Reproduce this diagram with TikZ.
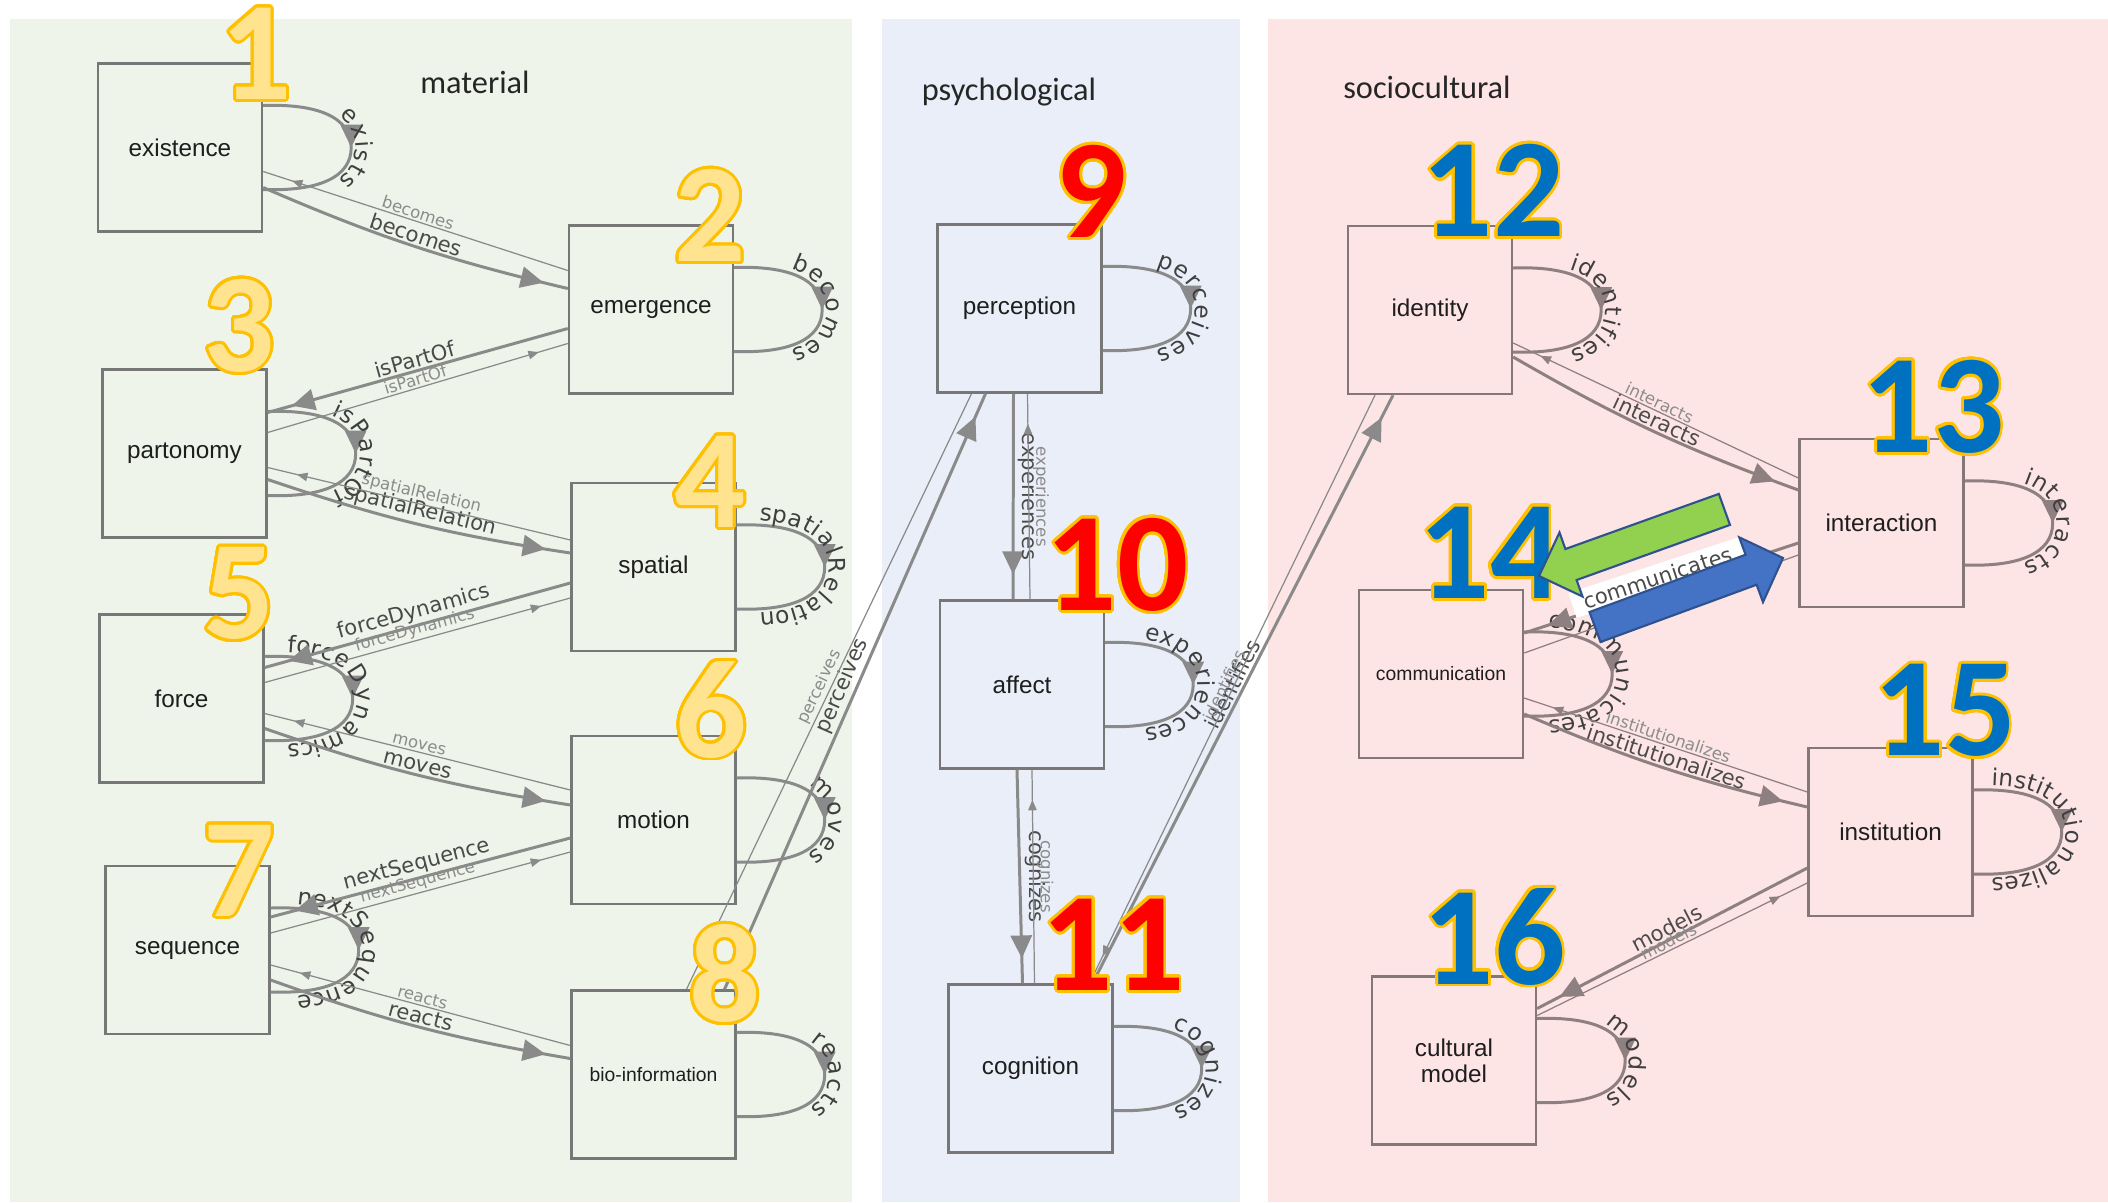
\documentclass[tikz,border=0pt]{standalone}
\usepackage{fontspec}
\setmainfont{Liberation Sans}
\newfontfamily\dejavu{DejaVu Sans}
\newfontfamily\carlito{Carlito}
\usepackage{contour}
\contourlength{0.8pt}
\contournumber{32}
\usetikzlibrary{arrows.meta,decorations.markings,decorations.text,calc}

\definecolor{panelG}{HTML}{EEF4E9}
\definecolor{panelB}{HTML}{E9EEF8}
\definecolor{panelR}{HTML}{FDE4E5}
\definecolor{edgeG}{HTML}{8A8A8A}
\definecolor{edgeR}{HTML}{8E8080}
\definecolor{boxG}{HTML}{777777}
\definecolor{boxR}{HTML}{857777}
\definecolor{labdark}{HTML}{4A4A4A}
\definecolor{labgray}{HTML}{8C8C8C}
\definecolor{looptext}{HTML}{3F3F3F}
\definecolor{boxtext}{HTML}{1E1E1E}
\definecolor{numY}{HTML}{FFE38F}
\definecolor{numR}{HTML}{FF0000}
\definecolor{numB}{HTML}{0070C0}
\definecolor{numO}{HTML}{FFC000}
\definecolor{arrG}{HTML}{92D050}
\definecolor{arrB}{HTML}{4472C4}
\definecolor{arrO}{HTML}{2F528F}

\newcommand\boxfnt{\fontsize{6.9}{7.3}\selectfont}
\newcommand\boxsmallfnt{\fontsize{5.5}{6}\selectfont}
\newcommand\bigfnt{\dejavu\fontsize{6}{7}\selectfont}
\newcommand\smallfnt{\dejavu\fontsize{4.7}{5.5}\selectfont}
\newcommand\loopfnt{\dejavu\fontsize{6.6}{7.5}\selectfont}
\newcommand\titlefnt{\carlito\fontsize{9.2}{11}\selectfont}
\newcommand\numfnt{\carlito\bfseries\fontsize{40}{40}\selectfont}

\newcommand\selfloop[2]{%
  \draw[line width=0.85pt,
    postaction={decorate, decoration={markings, mark=at position 0.5 with {\arrow{Triangle[length=6.5pt,width=6pt]}}}},
    postaction={decorate, decoration={text along path, text={|\loopfnt|#2}, text align=center, raise=1.2pt, text color=looptext}}]
    ($(#1.east)+(0,-42)$) .. controls +(55,-2) and +(0,-30) .. ($(#1.east)+(88,0)$) .. controls +(0,30) and +(55,2) .. ($(#1.east)+(0,42)$);%
}

\begin{document}
\begin{tikzpicture}[x=0.01cm,y=-0.01cm,
  box/.style={draw=#1, line width=0.65pt, minimum width=1.64cm, minimum height=1.68cm, inner sep=0pt, font=\boxfnt, text=boxtext, align=center},
  thk/.style={line width=0.85pt, postaction={decorate, decoration={markings, mark=at position -0.25cm with {\arrow{Triangle[length=6.5pt,width=6pt]}}}}},
  thn/.style={line width=0.35pt, postaction={decorate, decoration={markings, mark=at position -0.3cm with {\arrow{Triangle[length=3pt,width=2.4pt]}}}}},
  biglab/.style={font=\bigfnt, text=labdark, pos=0.5, above, sloped, inner sep=0.5pt},
  smalllab/.style={font=\smallfnt, text=labgray, pos=0.5, above, sloped, inner sep=0.5pt},
  vbiglab/.style={font=\bigfnt, text=labdark, pos=0.5, rotate=-90, anchor=south, inner sep=1pt},
  vsmalllab/.style={font=\smallfnt, text=labgray, pos=0.5, rotate=-90, anchor=south, inner sep=1pt},
  title/.style={font=\titlefnt, text=black!85, anchor=base, inner sep=0pt},
  num/.style={font=\numfnt, inner sep=0pt, text=#1},
  bigarrow/.style={fill=#1, draw=arrO, line width=0.6pt, line join=miter}
]
\useasboundingbox (0,0) rectangle (2108,1202);
\fill[white] (0,0) rectangle (2108,1202);
% panels
\fill[panelG] (10,19) rectangle (852,1202);
\fill[panelB] (882,19) rectangle (1240,1202);
\fill[panelR] (1268,19) rectangle (2108,1202);

% titles
\node[title] (tmat) at (475,93) {material};
\node[title] (tpsy) at (1009,100) {psychological};
\node[title] (tsoc) at (1427,98) {sociocultural};

% boxes
\node[box=boxG] (exi) at (180,147.5) {existence};
\node[box=boxG] (eme) at (651,309.5) {emergence};
\node[box=boxG] (par) at (184.5,453.5) {partonomy};
\node[box=boxG] (spa) at (653.5,567) {spatial};
\node[box=boxG] (frc) at (181.5,698.5) {force};
\node[box=boxG] (mot) at (653.5,820) {motion};
\node[box=boxG] (seq) at (187.5,950) {sequence};
\node[box=boxG, font=\boxsmallfnt] (bio) at (653.5,1074.5) {bio-information};
\node[box=boxG] (per) at (1019.5,308.5) {perception};
\node[box=boxG] (aff) at (1022,684.5) {affect};
\node[box=boxG] (cog) at (1030.5,1068.5) {cognition};
\node[box=boxR] (ide) at (1430,310) {identity};
\node[box=boxR] (int) at (1881.5,523) {interaction};
\node[box=boxR, font=\boxsmallfnt] (com) at (1441,674) {communication};
\node[box=boxR] (ins) at (1890.5,832) {institution};
\node[box=boxR] (cul) at (1454,1060.5) {cultural\\model};

% material + psychological edges
\begin{scope}[color=edgeG]
\selfloop{exi}{exists}
\selfloop{eme}{becomes}
\selfloop{par}{isPartOf}
\selfloop{spa}{spatialRelation}
\selfloop{frc}{forceDynamics}
\selfloop{mot}{moves}
\selfloop{seq}{nextSequence}
\selfloop{bio}{reacts}
\selfloop{per}{perceives}
\selfloop{aff}{experiences}
\selfloop{cog}{cognizes}

\draw[thk] ($(exi.east)+(0,40)$) to[bend right=5] node[biglab] (lb1) {becomes} ($(eme.west)+(0,-21)$);
\draw[thn] ($(eme.west)+(0,-39)$) -- node[smalllab] (ls1) {becomes} ($(exi.east)+(0,24)$);
\draw[thk] ($(eme.west)+(0,19)$) -- node[biglab] (lb2) {isPartOf} ($(par.east)+(0,-41)$);
\draw[thn] ($(par.east)+(0,-21)$) -- node[smalllab] (ls2) {isPartOf} ($(eme.west)+(0,34)$);
\draw[thk] ($(par.east)+(0,26)$) to[bend right=5] node[biglab] (lb3) {spatialRelation} ($(spa.west)+(0,-14)$);
\draw[thn] ($(spa.west)+(0,-27)$) -- node[smalllab] (ls3) {spatialRelation} ($(par.east)+(0,14)$);
\draw[thk] ($(spa.west)+(0,16)$) -- node[biglab] (lb4) {forceDynamics} ($(frc.east)+(0,-31)$);
\draw[thn] ($(frc.east)+(0,-16)$) -- node[smalllab] (ls4) {forceDynamics} ($(spa.west)+(0,31)$);
\draw[thk] ($(frc.east)+(0,30)$) to[bend right=5] node[biglab] (lb5) {moves} ($(mot.west)+(0,-15)$);
\draw[thn] ($(mot.west)+(0,-30)$) -- node[smalllab] (ls5) {moves} ($(frc.east)+(0,15)$);
\draw[thk] ($(mot.west)+(0,18)$) -- node[biglab] (lb6) {nextSequence} ($(seq.east)+(0,-33)$);
\draw[thn] ($(seq.east)+(0,-17)$) -- node[smalllab] (ls6) {nextSequence} ($(mot.west)+(0,32)$);
\draw[thk] ($(seq.east)+(0,30)$) to[bend right=5] node[biglab] (lb7) {reacts} ($(bio.west)+(0,-16)$);
\draw[thn] ($(bio.west)+(0,-29)$) -- node[smalllab] (ls7) {reacts} ($(seq.east)+(0,15)$);
\draw[thk] ($(bio.north)+(71,0)$) -- node[biglab] (lb8) {perceives} ($(per.south)+(-34,0)$);
\draw[thn] ($(per.south)+(-48,0)$) -- node[smalllab] (ls8) {perceives} ($(bio.north)+(33,0)$);

\draw[thk] ($(per.south)+(-6,0)$) -- node[vbiglab] (lb9) {experiences} ($(aff.north)+(-9,0)$);
\draw[thn] ($(aff.north)+(8,0)$) -- node[vsmalllab] (ls9) {experiences} ($(per.south)+(8,0)$);
\draw[thk] ($(aff.south)+(-5,0)$) -- node[vbiglab] (lb10) {cognizes} ($(cog.north)+(-8,0)$);
\draw[thn] ($(cog.north)+(4,0)$) -- node[vsmalllab] (ls10) {cognizes} ($(aff.south)+(10,0)$);
\draw[thk] ($(cog.north)+(62,0)$) -- node[biglab] (lb11) {identifies} ($(ide.south)+(-37,0)$);
\draw[thn] ($(ide.south)+(-55,0)$) -- node[smalllab] (ls11) {identifies} ($(cog.north)+(59,0)$);
\end{scope}

% sociocultural edges
\begin{scope}[color=edgeR]
\selfloop{ide}{identifies}
\selfloop{int}{interacts}
\selfloop{com}{communicates}
\selfloop{ins}{institutionalizes}
\selfloop{cul}{models}

\draw[thk] ($(ide.east)+(0,47)$) to[bend right=5] node[biglab] (lb12) {interacts} ($(int.west)+(0,-33)$);
\draw[thn] ($(int.west)+(0,-45)$) -- node[smalllab] (ls12) {interacts} ($(ide.east)+(0,33)$);
\draw[thn] ($(com.east)+(0,-21)$) -- node[smalllab] (ls13) {communicates} ($(int.west)+(0,32)$);
\draw[thk] ($(int.west)+(0,20)$) -- node[biglab, fill=white, inner xsep=3.5pt, inner ysep=1.4pt, yshift=-1pt] (lb13) {communicates} ($(com.east)+(0,-41)$);
\draw[thk] ($(com.east)+(0,40)$) to[bend right=5] node[biglab] (lb14) {institutionalizes} ($(ins.west)+(0,-25)$);
\draw[thn] ($(ins.west)+(0,-40)$) -- node[smalllab] (ls14) {institutionalizes} ($(com.east)+(0,24)$);
\draw[thk] ($(ins.west)+(0,36)$) -- node[biglab] (lb15) {models} ($(cul.east)+(0,-52)$);
\draw[thn] ($(cul.east)+(0,-45)$) -- node[smalllab] (ls15) {models} ($(ins.west)+(0,51)$);
\end{scope}

% numbers
\node[num=numY] (n1) at (256,55) {\contour{numO}{1}};
\node[num=numY] (n2) at (710,217) {\contour{numO}{2}};
\node[num=numY] (n3) at (239,327) {\contour{numO}{3}};
\node[num=numY] (n4) at (710,483) {\contour{numO}{4}};
\node[num=numY] (n5) at (239,595) {\contour{numO}{5}};
\node[num=numY] (n6) at (711,711) {\contour{numO}{6}};
\node[num=numY] (n7) at (239,872) {\contour{numO}{7}};
\node[num=numY] (n8) at (725,975) {\contour{numO}{8}};
\node[num=numR] (n9) at (1091,193) {\contour{numO}{9}};
\node[num=numR] (n10) at (1117,566) {\contour{numO}{10}};
\node[num=numR] (n11) at (1113,946) {\contour{numO}{11}};
\node[num=numB] (n12) at (1493,192) {\contour{numO}{12}};
\node[num=numB] (n13) at (1933,408) {\contour{numO}{13}};
\node[num=numB] (n14) at (1490,554) {\contour{numO}{14}};
\node[num=numB] (n15) at (1945,712) {\contour{numO}{15}};
\node[num=numB] (n16) at (1494,938) {\contour{numO}{16}};

% annotation arrows
\draw[bigarrow=arrG] (1539,576) -- (1559.5,532.5) -- (1565.4,549) -- (1718.8,493.9) -- (1730,524.9) -- (1576.6,580) -- (1582.5,596.5) -- cycle;
\draw[bigarrow=arrB] (1783,558) -- (1739.2,537.3) -- (1745.6,554.7) -- (1589.5,612) -- (1600.5,642) -- (1756.6,584.7) -- (1763,602.1) -- cycle;
\end{tikzpicture}
\end{document}
